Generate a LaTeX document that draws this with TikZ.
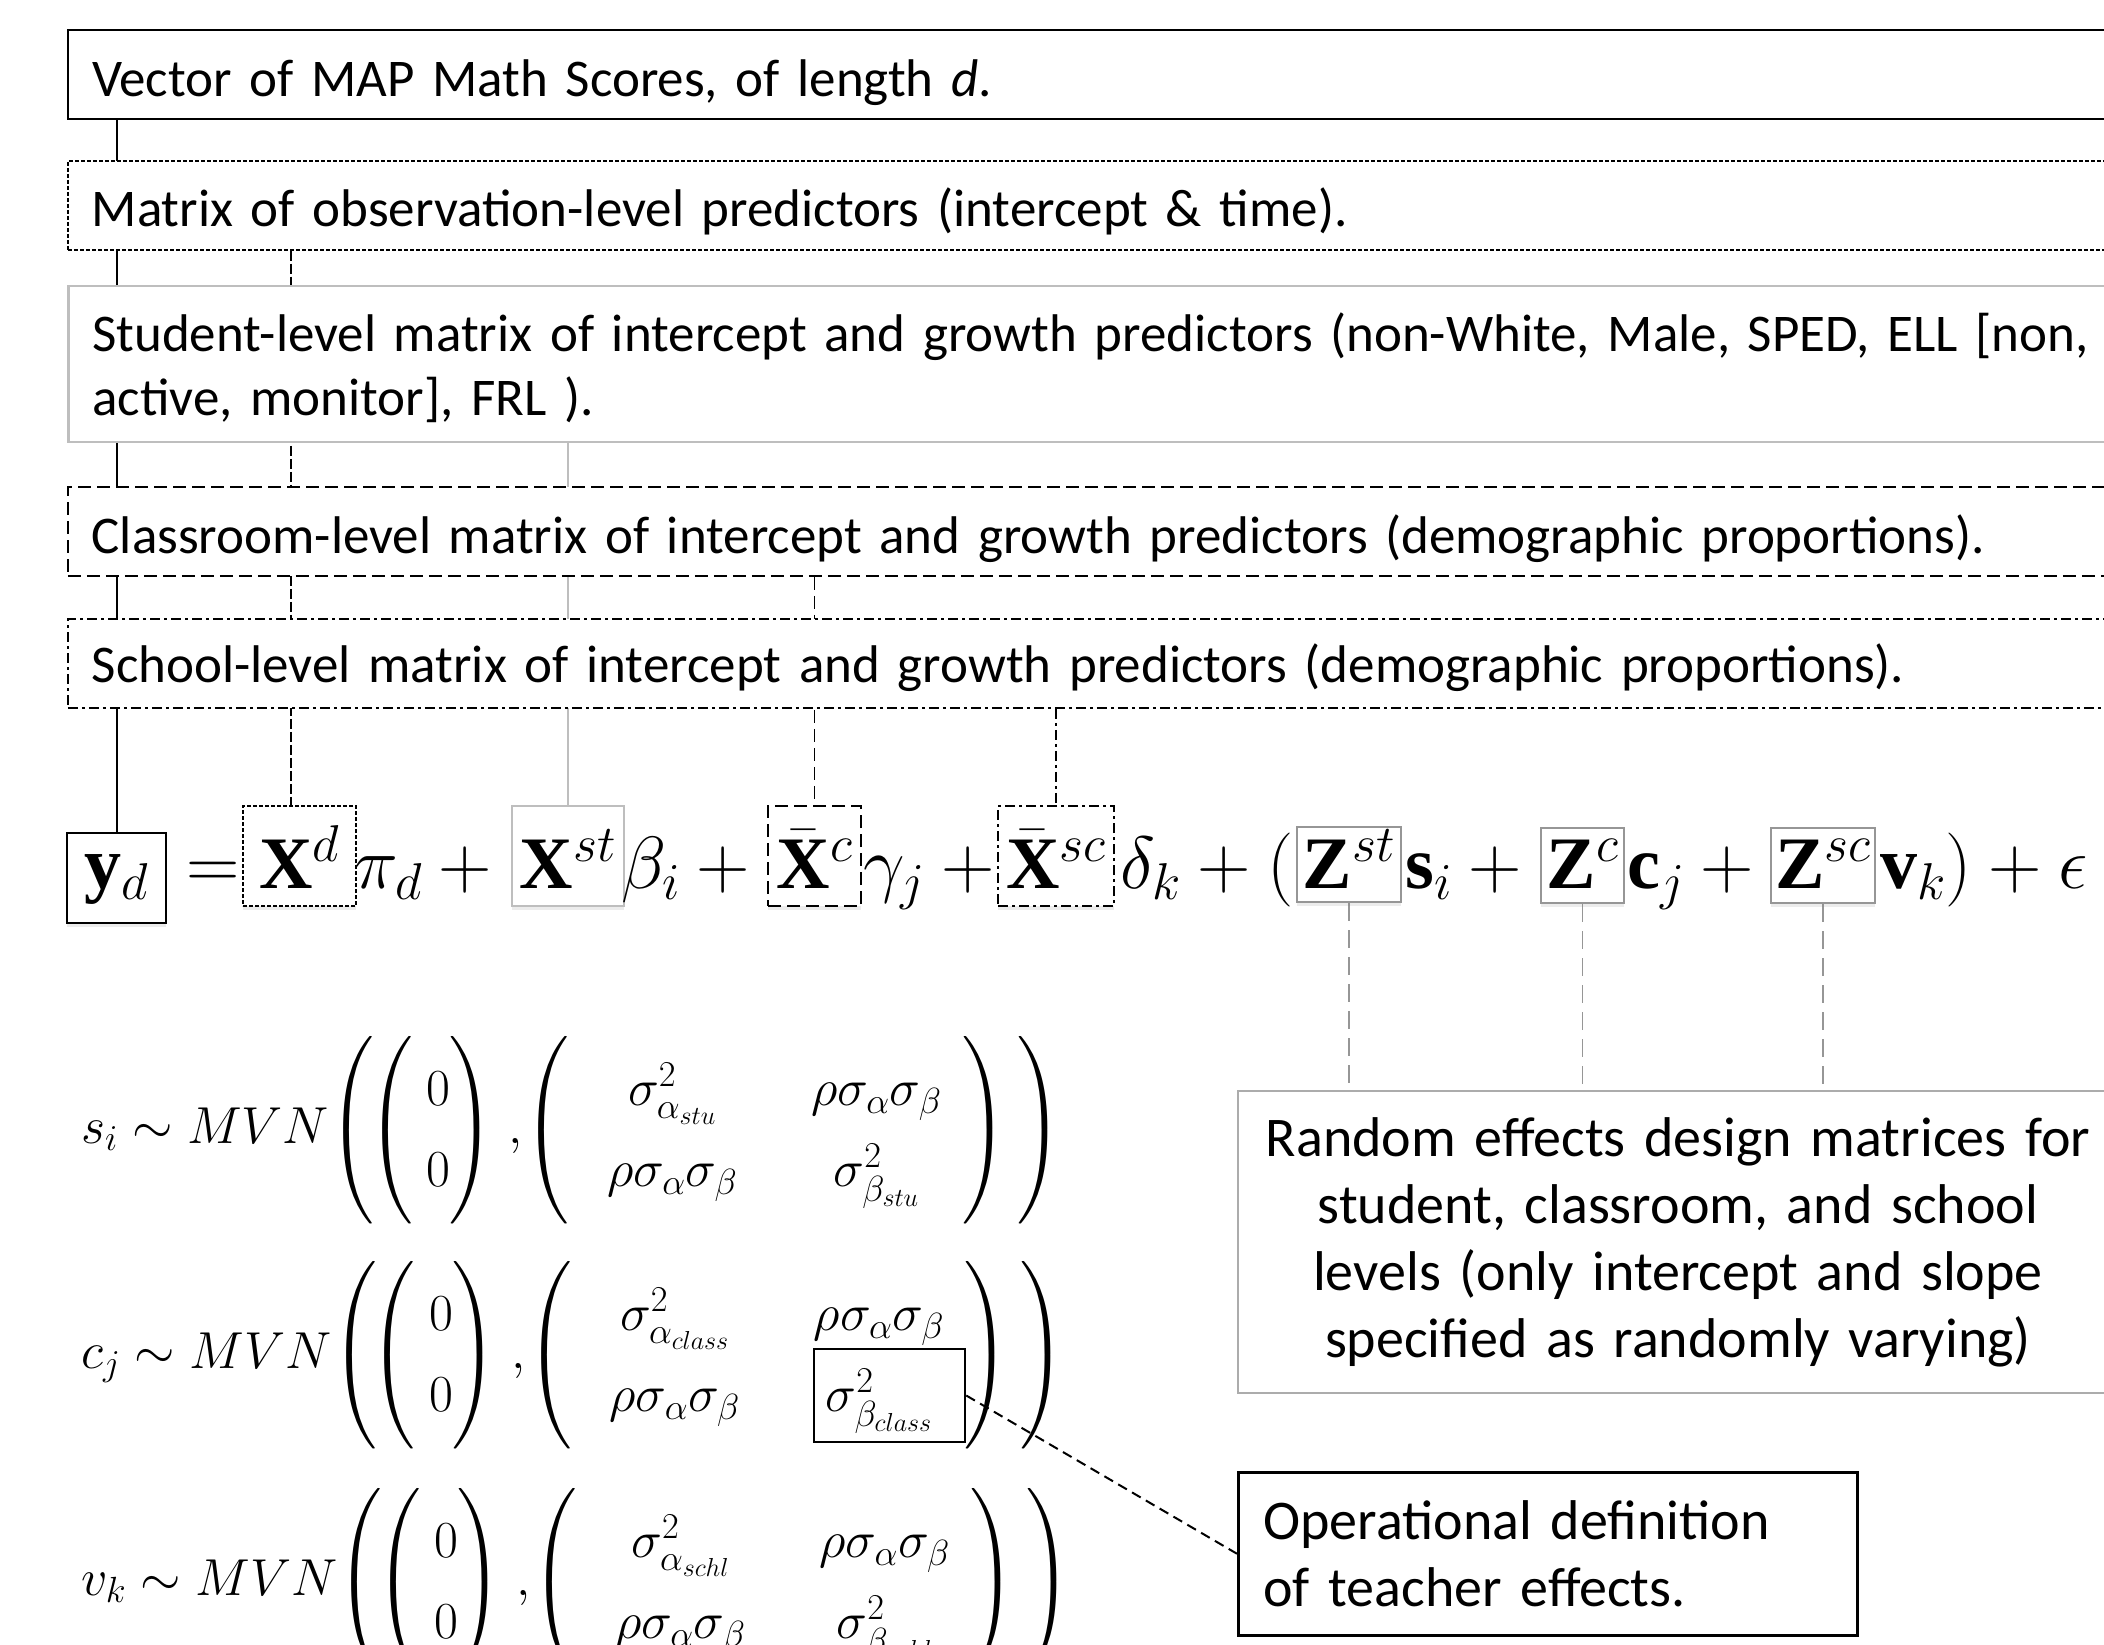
\RequirePackage{fix-cm}
\documentclass[tikz,border=0pt]{standalone}
\usepackage{amsmath}
\usepackage{fontspec}
\setmainfont{Carlito}
\setmathrm{Liberation Serif}
\DeclareFontShape{OMX}{cmex}{m}{n}{<-> cmex10}{}
\usetikzlibrary{positioning, backgrounds, shadows}
\definecolor{stugray}{RGB}{190,190,190}
\definecolor{zgray}{RGB}{150,150,150}
\definecolor{randgray}{RGB}{172,172,172}
\newcommand{\lvlfont}{\fontsize{53}{63}\selectfont}
\newcommand{\notefont}{\fontsize{56}{67}\selectfont}
\newcommand{\eqfont}{\fontsize{74}{80}\selectfont}
\newcommand{\mvnfont}{\fontsize{52}{62}\selectfont\renewcommand{\arraystretch}{1.3}}
\newcommand{\zerovec}{\left(\begin{array}{@{\hspace{14pt}}c@{\hspace{-1pt}}}0\\0\end{array}\right)}
\newcommand{\covmat}[1]{\left(\begin{array}{@{\hspace{38pt}}c@{\hspace{74pt}}c@{\hspace{21pt}}}
  \sigma^2_{\alpha_{#1}} & \rho\sigma_\alpha\sigma_\beta\\
  \rho\sigma_\alpha\sigma_\beta & \sigma^2_{\beta_{#1}}\end{array}\right)}
\newcommand{\mvndist}[2]{$#1 \sim MVN\hspace{-9pt}\left(\hspace{-7pt}\zerovec\hspace{5pt},\hspace{-8pt}\covmat{#2}\hspace{10pt}\right)$}

\begin{document}
\begin{tikzpicture}[x=1pt, y=-1pt,
  lvlbox/.style={anchor=base west, fill=white, inner xsep=24pt, inner ysep=0pt, text width=2085pt, align=left, font=\lvlfont},
  obsdash/.style={dash pattern=on 4pt off 2pt},
  clsdash/.style={dash pattern=on 13pt off 6pt},
  schdash/.style={dash pattern=on 10pt off 4pt on 3pt off 4pt},
  termbox/.style={anchor=base, inner sep=0pt, fill=white, font=\eqfont, text height=82pt, text depth=18pt,
    drop shadow={opacity=0.15, shadow xshift=0pt, shadow yshift=-4pt}},
  zbox/.style={termbox, draw=zgray, line width=2pt, text height=61pt, text depth=14pt},
  eqtxt/.style={anchor=base west, inner sep=0pt, font=\eqfont},
  mvn/.style={anchor=base west, inner sep=0pt, font=\mvnfont},
  zlink/.style={draw=zgray, line width=1.8pt, dash pattern=on 18pt off 9pt}
]
\useasboundingbox (0,0) rectangle (2104,1645);
\clip (0,0) rectangle (2104,1645);

% levels of predictors
\node[lvlbox, draw=black, line width=2pt, text height=67pt, text depth=22pt] (vec) at (67,97)
  {Vector of MAP Math Scores, of length \textit{d}.};
\node[lvlbox, draw=black, line width=1.5pt, obsdash, text height=66pt, text depth=23pt] (obs) at (67,227)
  {Matrix of observation-level predictors (intercept \& time).};
\node[lvlbox, draw=stugray, line width=2.5pt, text height=66pt, text depth=90pt] (stud) at (67,352)
  {Student-level matrix of intercept and growth predictors (non-White, Male, SPED, ELL [non,\\ active, monitor], FRL ).};
\node[lvlbox, draw=black, line width=1.5pt, clsdash, text height=66pt, text depth=23pt] (class) at (67,553)
  {Classroom-level matrix of intercept and growth predictors (demographic proportions).};
\node[lvlbox, draw=black, line width=1.5pt, schdash, text height=63pt, text depth=26pt] (school) at (67,682)
  {School-level matrix of intercept and growth predictors (demographic proportions).};

% model equation
\node[termbox, draw=black, line width=2pt, minimum width=99pt, text height=55pt, text depth=35pt] (yd) at (116.5,888) {$\mathbf{y}_d$};
\node[termbox, draw=black, line width=1.5pt, obsdash, minimum width=113pt] (Xd) at (299.5,888) {$\mathbf{X}^{d}$};
\node[termbox, draw=stugray, line width=2.5pt, minimum width=112pt] (Xst) at (568,888) {$\mathbf{X}^{st}$};
\node[termbox, draw=black, line width=1.5pt, clsdash, minimum width=93pt] (Xc) at (814.5,888) {$\bar{\mathbf{X}}^{c}$};
\node[termbox, draw=black, line width=1.5pt, schdash, minimum width=116pt] (Xsc) at (1056,888) {$\bar{\mathbf{X}}^{sc}$};
\node[zbox, minimum width=104pt] (Zst) at (1349,888) {$\mathbf{Z}^{st}$};
\node[zbox, minimum width=83pt, text height=60pt, text depth=15pt] (Zc) at (1582.5,888) {$\mathbf{Z}^{c}$};
\node[zbox, minimum width=104pt, text height=60pt, text depth=15pt] (Zsc) at (1823,888) {$\mathbf{Z}^{sc}$};
\coordinate (Xdtop) at ([xshift=-8.5pt]Xd.north);

\node[eqtxt] (eqsign) at (186,888) {$=$};
\node[eqtxt] (pid) at (354,888) {$\pi_d +{}$};
\node[eqtxt] (betai) at (621,888) {$\beta_i +{}$};
\node[eqtxt] (gamj) at (863,888) {$\gamma_j +{}$};
\node[eqtxt] (delk) at (1120,888) {$\delta_k + ($};
\node[eqtxt] (si) at (1405,888) {$\mathbf{s}_i +{}$};
\node[eqtxt] (cj) at (1627,888) {$\mathbf{c}_j +{}$};
\node[eqtxt] (vk) at (1880,888) {$\mathbf{v}_k) + \epsilon$};

% random effects distributions
\node[mvn] (sdist) at (81,1143) {\mvndist{s_i}{stu}};
\node[mvn] (cdist) at (81,1368) {\mvndist{c_j}{class}};
\node[mvn] (vdist) at (81,1595) {\mvndist{v_k}{schl}};
\node[draw=black, line width=2.5pt, minimum width=151pt, minimum height=93pt, inner sep=0pt] (sig) at (889.5,1395.5) {};

% notes
\node[draw=randgray, line width=2pt, anchor=north west, minimum width=880pt, minimum height=302pt,
  text width=830pt, align=center, font=\notefont] (rand) at (1237,1090)
  {Random effects design matrices for\\ student, classroom, and school\\ levels (only intercept and slope\\ specified as randomly varying)};
\node[draw=black, line width=2.5pt, anchor=north west, minimum height=163pt, inner xsep=25pt,
  text width=569pt, align=left, font=\notefont] (oper) at (1237,1471)
  {Operational definition\\ of teacher effects.};

\begin{scope}[on background layer]
  \draw[line width=2pt] (vec.south -| yd.north) -- (yd.north);
  \draw[line width=1.5pt, dash pattern=on 10pt off 3pt] (obs.south -| Xdtop) -- (Xdtop);
  \draw[draw=stugray, line width=2.5pt] (stud.south -| Xst.north) -- (Xst.north);
  \draw[line width=1.5pt, clsdash] (class.south -| Xc.north) -- (Xc.north);
  \draw[line width=1.5pt, schdash] (school.south -| Xsc.north) -- (Xsc.north);
  \draw[zlink] (Zst.south) -- (Zst.south |- rand.north);
  \draw[zlink] (Zc.south) -- (Zc.south |- rand.north);
  \draw[zlink] (Zsc.south) -- (Zsc.south |- rand.north);
  \draw[line width=2pt, dash pattern=on 10pt off 6pt] (sig.east) -- (oper.west);
\end{scope}
\end{tikzpicture}
\end{document}
